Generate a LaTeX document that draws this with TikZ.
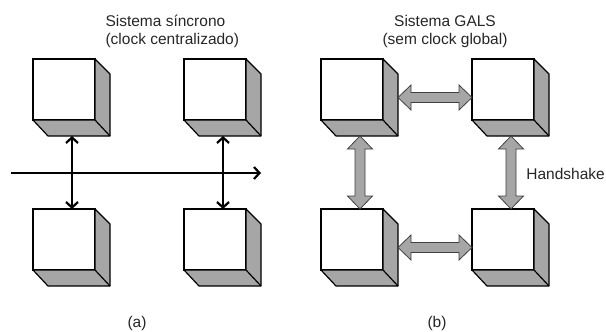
\documentclass[tikz,border=0pt]{standalone}
\usepackage{fontspec}
\setmainfont{Liberation Sans}
\usetikzlibrary{arrows.meta,calc}

\begin{document}
\begin{tikzpicture}[x=1pt,y=-1pt,font=\fontsize{15.5}{18}\selectfont,
    cubo/.style={rectangle,draw=black,fill=white,line width=1.2pt,minimum width=62pt,minimum height=61pt,inner sep=0pt,outer sep=0pt,anchor=north west},
    lado/.style={fill=gray!70,draw=black,line width=1.2pt,line join=round},
    clk/.style={line width=2.2pt,-{Straight Barb[length=5.5pt,width=12pt]}},
    clkdupla/.style={line width=2.2pt,{Straight Barb[length=5.5pt,width=12pt]}-{Straight Barb[length=5.5pt,width=12pt]}},
    hsh/.style={draw=black!75,fill=gray!70,line width=0.8pt,to path={
      -- ($(\tikztostart)+(13,12.5)$) -- ($(\tikztostart)+(13,5)$)
      -- ($(\tikztotarget)+(-13,5)$) -- ($(\tikztotarget)+(-13,12.5)$) -- (\tikztotarget)
      -- ($(\tikztotarget)+(-13,-12.5)$) -- ($(\tikztotarget)+(-13,-5)$)
      -- ($(\tikztostart)+(13,-5)$) -- ($(\tikztostart)+(13,-12.5)$) -- cycle}},
    hsv/.style={draw=black!75,fill=gray!70,line width=0.8pt,to path={
      -- ($(\tikztostart)+(12.5,13)$) -- ($(\tikztostart)+(5,13)$)
      -- ($(\tikztotarget)+(5,-13)$) -- ($(\tikztotarget)+(12.5,-13)$) -- (\tikztotarget)
      -- ($(\tikztotarget)+(-12.5,-13)$) -- ($(\tikztotarget)+(-5,-13)$)
      -- ($(\tikztostart)+(-5,13)$) -- ($(\tikztostart)+(-12.5,13)$) -- cycle}}]
  \useasboundingbox (0,0) rectangle (606,332);

  %titles
  \node[anchor=west,align=left,text=black!85] (tit1) at (102,31) {Sistema síncrono\\(clock centralizado)};
  \node[align=center,text=black!85] (tit2) at (445,31) {Sistema GALS\\(sem clock global)};

  %cubes
  \foreach \nome/\x/\y in {a1/33/59,a2/184/59,a3/33/209,a4/184/209,b1/321/59,b2/472/59,b3/321/209,b4/472/209}{
    \node[cubo] (\nome) at (\x,\y) {};
    \draw[lado] (\nome.north east) -- ++(15,15) -- ($(\nome.south east)+(15,16)$) -- ($(\nome.south west)+(15,16)$) -- (\nome.south west) -- (\nome.south east) -- cycle;
    \draw[lado] (\nome.south east) -- ++(15,16);
  }

  %clock
  \coordinate (clkin) at (11,173);
  \coordinate (clkout) at (261,173);
  \draw[clk] (clkin) -- (clkout);
  \draw[clkdupla] ([xshift=8pt,yshift=-16pt]a1.south) -- ([xshift=8pt]a3.north);
  \draw[clkdupla] ([xshift=8pt,yshift=-16pt]a2.south) -- ([xshift=8pt]a4.north);

  %handshake
  \draw[hsh] ([xshift=15pt,yshift=-8pt]b1.east) to ([yshift=-8pt]b2.west);
  \draw[hsh] ([xshift=15pt,yshift=-8pt]b3.east) to ([yshift=-8pt]b4.west);
  \draw[hsv] ([xshift=8pt,yshift=-16pt]b1.south) to ([xshift=8pt]b3.north);
  \draw[hsv] ([xshift=8pt,yshift=-16pt]b2.south) to ([xshift=8pt]b4.north);
  \node[anchor=east,inner sep=1pt,text=black!85] (hs) at (606,174) {Handshake};

  %labels
  \node[text=black!85] (la) at (137,323) {(a)};
  \node[text=black!85] (lb) at (437,323) {(b)};
\end{tikzpicture}
\end{document}
